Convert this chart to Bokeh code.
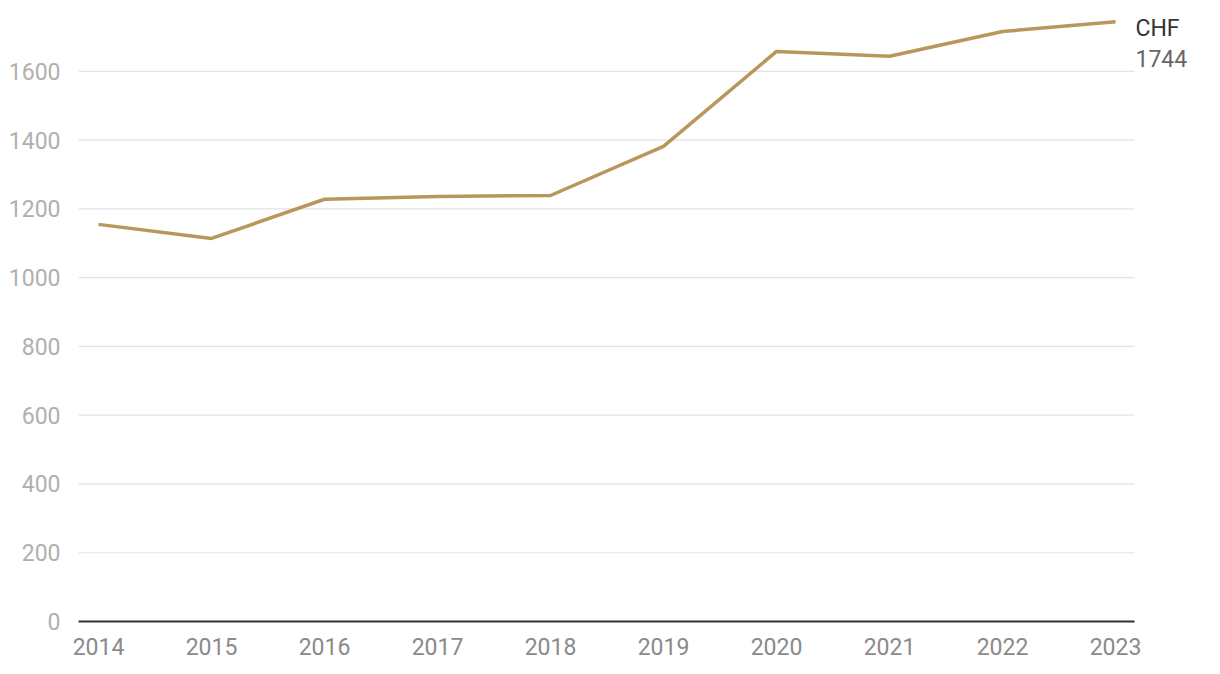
from bokeh.plotting import figure
from bokeh.models import FixedTicker, Range1d, Label
from bokeh.embed import file_html
from bokeh.resources import INLINE

years = [2014, 2015, 2016, 2017, 2018, 2019, 2020, 2021, 2022, 2023]
values = [1155, 1114, 1228, 1236, 1239, 1382, 1658, 1644, 1716, 1744]
y_ticks = [0, 200, 400, 600, 800, 1000, 1200, 1400, 1600]
currency = "CHF"

FONT = "Roboto"
X_LO, X_HI = 2013.823, 2023.168   # plotted extent of grid / axis

p = figure(width=1220, height=674, output_backend="svg", toolbar_location=None,
           x_range=Range1d(X_LO, 2023.885), y_range=Range1d(0, 1777),
           min_border_left=78, min_border_right=5, min_border_top=10, min_border_bottom=53)
p.outline_line_color = None
p.background_fill_color = "white"
p.border_fill_color = "white"

# horizontal grid lines limited to the data area
p.segment(x0=[X_LO] * len(y_ticks), x1=[X_HI] * len(y_ticks), y0=y_ticks, y1=y_ticks,
          line_color="#e3e3e3", line_width=1.2)

p.line(years, values, line_color="#b9975b", line_width=3.5)

p.xaxis.ticker = FixedTicker(ticks=years)
p.xaxis.bounds = (X_LO, X_HI)
p.xaxis.major_tick_line_color = None
p.xaxis.minor_tick_line_color = None
p.xaxis.axis_line_color = "#333333"
p.xaxis.axis_line_width = 2
p.xaxis.major_label_text_font = FONT
p.xaxis.major_label_text_font_size = "23px"
p.xaxis.major_label_text_font_style = "normal"
p.xaxis.major_label_text_color = "#8a8a8a"
p.xaxis.major_label_standoff = 10

p.yaxis.ticker = FixedTicker(ticks=y_ticks)
p.yaxis.major_tick_line_color = None
p.yaxis.minor_tick_line_color = None
p.yaxis.axis_line_color = None
p.yaxis.major_label_text_font = FONT
p.yaxis.major_label_text_font_size = "23px"
p.yaxis.major_label_text_color = "#b0b0b0"
p.yaxis.major_label_standoff = 12

p.xgrid.grid_line_color = None
p.ygrid.grid_line_color = None

p.add_layout(Label(x=years[-1], y=values[-1], text=currency, x_offset=20, y_offset=-7,
                   text_baseline="middle", text_font=FONT, text_font_size="23px",
                   text_color="#333333"))
p.add_layout(Label(x=years[-1], y=values[-1], text=str(values[-1]), x_offset=20, y_offset=-37,
                   text_baseline="middle", text_font=FONT, text_font_size="23px",
                   text_color="#666666"))

open("out.html", "w").write(file_html(p, INLINE))
